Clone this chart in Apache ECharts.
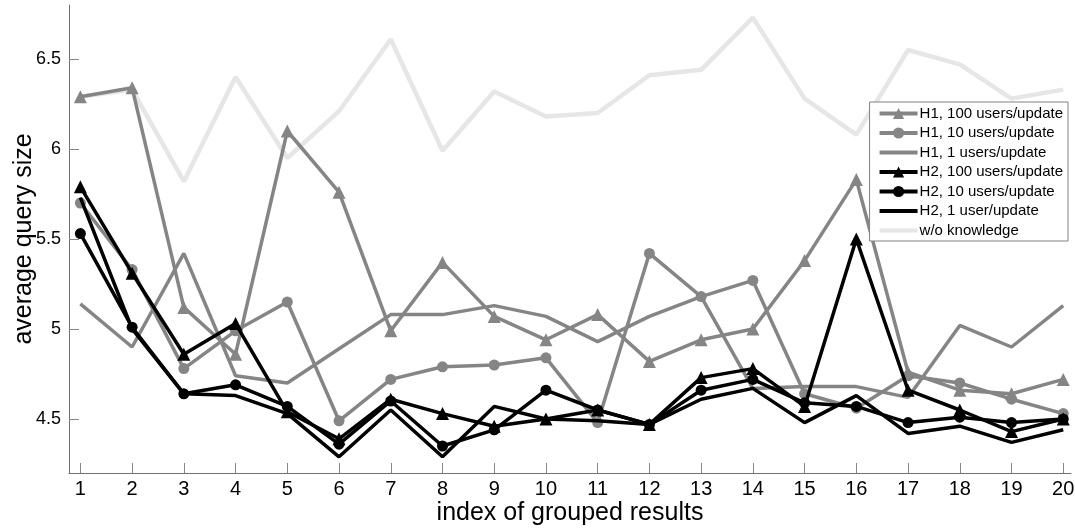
<!DOCTYPE html>
<html>
<head>
<meta charset="utf-8">
<script src="https://cdn.jsdelivr.net/npm/echarts@6/dist/echarts.min.js"></script>
<style>
  html, body { margin: 0; padding: 0; background: #fff; }
  #chart { width: 1075px; height: 531px; }
</style>
</head>
<body>
<div id="chart"></div>
<script>
// x positions (index of grouped results)
var xIndex = [1, 2, 3, 4, 5, 6, 7, 8, 9, 10, 11, 12, 13, 14, 15, 16, 17, 18, 19, 20]
var yTicks = [4.5, 5, 5.5, 6, 6.5]

var h1_100 = [6.29, 6.34, 5.12, 4.86, 6.10, 5.76, 4.99, 5.37, 5.07, 4.94, 5.08, 4.82, 4.94, 5.00, 5.38, 5.83, 4.76, 4.66, 4.64, 4.72]
var h1_10 = [5.70, 5.33, 4.78, 4.99, 5.15, 4.49, 4.72, 4.79, 4.80, 4.84, 4.48, 5.42, 5.18, 5.27, 4.64, 4.56, 4.74, 4.70, 4.61, 4.53]
var h1_1 = [5.14, 4.90, 5.42, 4.74, 4.70, 4.89, 5.08, 5.08, 5.13, 5.07, 4.93, 5.07, 5.18, 4.67, 4.68, 4.68, 4.62, 5.02, 4.90, 5.13]
var h2_100 = [5.79, 5.31, 4.86, 5.03, 4.54, 4.39, 4.61, 4.53, 4.46, 4.50, 4.55, 4.47, 4.73, 4.78, 4.57, 5.50, 4.66, 4.55, 4.43, 4.50]
var h2_10 = [5.53, 5.01, 4.64, 4.69, 4.57, 4.36, 4.60, 4.35, 4.44, 4.66, 4.55, 4.47, 4.66, 4.72, 4.59, 4.57, 4.48, 4.51, 4.48, 4.50]
var h2_1 = [5.73, 5.00, 4.64, 4.63, 4.53, 4.29, 4.55, 4.29, 4.57, 4.50, 4.49, 4.47, 4.61, 4.67, 4.48, 4.63, 4.42, 4.46, 4.37, 4.44]
var noKnowledge = [6.29, 6.33, 5.82, 6.40, 5.95, 6.21, 6.61, 5.99, 6.32, 6.18, 6.20, 6.41, 6.44, 6.73, 6.28, 6.08, 6.55, 6.47, 6.28, 6.33]

var gray = '#858585'
var light = '#e6e6e6'
var font = 'Liberation Sans, Arial'

function pairs(values) {
  return values.map(function (v, i) { return [xIndex[i], v] })
}

function line(name, values, color, symbol, size, width, z) {
  return {
    name: name,
    type: 'line',
    data: pairs(values),
    symbol: symbol,
    symbolSize: size,
    showSymbol: symbol !== 'none',
    z: z,
    itemStyle: { color: color },
    lineStyle: { color: color, width: width },
    emphasis: { disabled: true }
  }
}

// legend entries without a marker
function plain(name) {
  return { name: name, itemStyle: { opacity: 0 } }
}

var chart = echarts.init(document.getElementById('chart'))

var option = {
  animation: false,
  backgroundColor: '#fff',
  grid: { left: 69, right: 4, top: 5, bottom: 58, outerBoundsMode: 'none' },
  legend: {
    orient: 'vertical',
    right: 7,
    top: 102,
    padding: [4, 5, 3, 8],
    itemWidth: 38,
    itemHeight: 14,
    itemGap: 4.5,
    borderColor: '#808080',
    borderWidth: 1,
    backgroundColor: '#fff',
    lineStyle: { width: 4 },
    textStyle: { fontFamily: font, fontSize: 15, color: '#000', padding: [0, 0, 0, -3] },
    data: [
      'H1, 100 users/update', 'H1, 10 users/update', plain('H1, 1 users/update'),
      'H2, 100 users/update', 'H2, 10 users/update', plain('H2, 1 user/update'), plain('w/o knowledge')
    ]
  },
  xAxis: {
    type: 'value',
    min: 0.78,
    max: 20.15,
    name: 'index of grouped results',
    nameLocation: 'middle',
    nameGap: 28,
    nameMoveOverlap: false,
    nameTextStyle: { fontFamily: font, fontSize: 25, color: '#000' },
    axisLine: { lineStyle: { color: '#707070', width: 1 } },
    axisTick: { inside: true, length: 10, customValues: xIndex, lineStyle: { color: '#888' } },
    axisLabel: {
      customValues: xIndex,
      margin: 6,
      fontFamily: font,
      fontSize: 20,
      color: '#000'
    },
    splitLine: { show: false }
  },
  yAxis: {
    type: 'value',
    min: 4.2,
    max: 6.8,
    name: 'average query size',
    nameLocation: 'middle',
    nameGap: 32,
    nameMoveOverlap: false,
    nameTextStyle: { fontFamily: font, fontSize: 25, color: '#000' },
    axisLine: { show: true, lineStyle: { color: '#707070', width: 1 } },
    axisTick: { show: true, inside: true, length: 10, customValues: yTicks, lineStyle: { color: '#888' } },
    axisLabel: {
      customValues: yTicks,
      margin: 8,
      fontFamily: font,
      fontSize: 18,
      color: '#000'
    },
    splitLine: { show: false }
  },
  series: [
    line('w/o knowledge', noKnowledge, light, 'none', 0, 4.5, 1),
    line('H1, 100 users/update', h1_100, gray, 'triangle', 13, 3.5, 2),
    line('H1, 10 users/update', h1_10, gray, 'circle', 11, 3.5, 2),
    line('H1, 1 users/update', h1_1, gray, 'none', 0, 3.5, 2),
    line('H2, 100 users/update', h2_100, '#000', 'triangle', 13, 3.5, 3),
    line('H2, 10 users/update', h2_10, '#000', 'circle', 11, 3.5, 3),
    line('H2, 1 user/update', h2_1, '#000', 'none', 0, 3.5, 3)
  ]
}

chart.setOption(option)
</script>
</body>
</html>
